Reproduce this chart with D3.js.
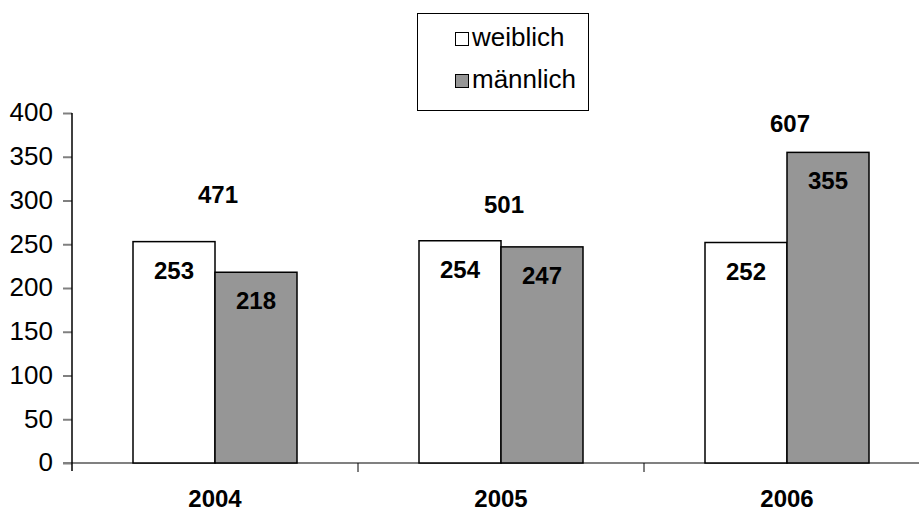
<!DOCTYPE html>
<html><head><meta charset="utf-8">
<script src="https://cdn.jsdelivr.net/npm/d3@7"></script>
<style>
html,body{margin:0;padding:0;background:#fff;}
svg{display:block;font-family:"Liberation Sans",Arial,sans-serif;}
</style></head>
<body><svg id="c" width="919" height="511"></svg>
<script>
const years = ["2004", "2005", "2006"];
const seriesNames = ["weiblich", "männlich"];
const weiblich = [253, 254, 252];
const maennlich = [218, 247, 355];
const totals = [471, 501, 607];
const totalLabelLevel = [297, 286, 378];
const yTicks = [0, 50, 100, 150, 200, 250, 300, 350, 400];
const fills = ["#ffffff", "#969696"];

const svg = d3.select("#c");
const y = d3.scaleLinear().domain([0, 400]).range([463, 113]);
const x0 = d3.scaleBand().domain(years).range([72, 930]).padding(0);
const x1 = d3.scaleBand().domain(seriesNames).range([61, 225]).padding(0);
const series = [weiblich, maennlich];

// x axis line
svg.append("line").attr("x1", 63).attr("x2", 930).attr("y1", y(0)).attr("y2", y(0))
  .attr("stroke", "#808080").attr("stroke-width", 2);
years.forEach((yr, i) => {
  const xb = x0(yr);
  if (i > 0) svg.append("line").attr("x1", xb).attr("x2", xb).attr("y1", y(0)).attr("y2", y(0) + 9)
    .attr("stroke", "#000").attr("stroke-width", 1);
});

// y axis
const yAxis = d3.axisLeft(y).tickValues(yTicks).tickSize(9).tickPadding(10).tickSizeOuter(0);
const ga = svg.append("g").attr("transform", "translate(72,0)").call(yAxis);
ga.select(".domain").remove();
ga.selectAll(".tick line").attr("stroke", "#808080").attr("stroke-width", 2);
ga.selectAll(".tick text").attr("font-size", 26).attr("fill", "#000")
  .attr("font-family", "Liberation Sans, Arial, sans-serif").attr("dy", "0.3em");
svg.append("line").attr("x1", 72).attr("x2", 72).attr("y1", y(400)).attr("y2", y(0) + 8)
  .attr("stroke", "#000").attr("stroke-width", 1.5);

// bars
series.forEach((vals, si) => {
  svg.append("g").selectAll("rect").data(vals).join("rect")
    .attr("x", (d, i) => x0(years[i]) + x1(seriesNames[si]))
    .attr("y", d => y(d))
    .attr("width", x1.bandwidth())
    .attr("height", d => y(0) - y(d))
    .attr("fill", fills[si]).attr("stroke", "#000").attr("stroke-width", 1.5);
  svg.append("g").selectAll("text").data(vals).join("text")
    .attr("x", (d, i) => x0(years[i]) + x1(seriesNames[si]) + x1.bandwidth() / 2)
    .attr("y", d => y(d) + 37)
    .attr("text-anchor", "middle").attr("font-size", 24).attr("font-weight", "bold")
    .text(d => d);
});

// totals
svg.append("g").selectAll("text").data(totals).join("text")
  .attr("x", (d, i) => x0(years[i]) + x0.bandwidth() / 2 + 3)
  .attr("y", (d, i) => y(totalLabelLevel[i]))
  .attr("text-anchor", "middle").attr("font-size", 24).attr("font-weight", "bold")
  .text(d => d);

// category labels
svg.append("g").selectAll("text").data(years).join("text")
  .attr("x", d => x0(d) + x0.bandwidth() / 2)
  .attr("y", 507)
  .attr("text-anchor", "middle").attr("font-size", 24).attr("font-weight", "bold")
  .text(d => d);

// legend
const lg = svg.append("g");
lg.append("rect").attr("x", 417.5).attr("y", 13.5).attr("width", 171).attr("height", 97)
  .attr("fill", "#fff").attr("stroke", "#000").attr("stroke-width", 1);
seriesNames.forEach((n, i) => {
  const by = 46 + i * 42;
  lg.append("rect").attr("x", 455.5).attr("y", by - 13.5).attr("width", 13).attr("height", 13)
    .attr("fill", fills[i]).attr("stroke", "#000").attr("stroke-width", 1);
  lg.append("text").attr("x", 472).attr("y", by).attr("font-size", 26).text(n);
});
</script></body></html>
